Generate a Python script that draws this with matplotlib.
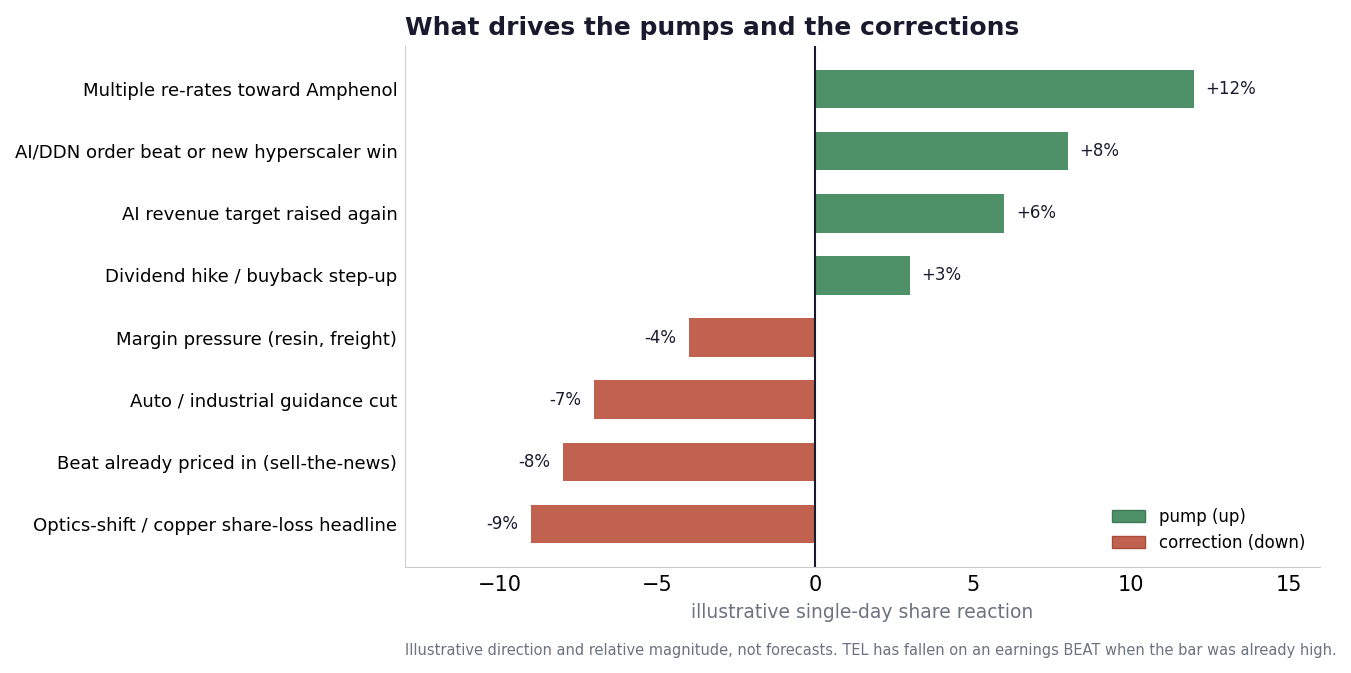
import numpy as np
import matplotlib.pyplot as plt
from matplotlib.patches import Patch

drivers = [
    "Multiple re-rates toward Amphenol",
    "AI/DDN order beat or new hyperscaler win",
    "AI revenue target raised again",
    "Dividend hike / buyback step-up",
    "Margin pressure (resin, freight)",
    "Auto / industrial guidance cut",
    "Beat already priced in (sell-the-news)",
    "Optics-shift / copper share-loss headline",
]
reaction = [12, 8, 6, 3, -4, -7, -8, -9]

green = "#4e9068"
red = "#c0624f"
dark = "#1a1a2e"
gray = "#6b7280"

fig = plt.figure(figsize=(13.51, 6.73), dpi=100)
ax = fig.add_axes([405 / 1351, 1 - 567 / 673, 915 / 1351, 521 / 673])

y = np.arange(len(drivers))
cols = [green if v > 0 else red for v in reaction]
ax.barh(y, reaction, height=0.62, color=cols)
ax.invert_yaxis()
ax.set_yticks(y)
ax.set_yticklabels(drivers, fontsize=13.05)
ax.set_xlim(-13, 16)
ax.axvline(0, color=dark, lw=1.5)

for yi, v in zip(y, reaction):
    if v > 0:
        ax.text(v + 0.37, yi, f"+{v}%", va="center", ha="left", fontsize=12, color=dark)
    else:
        ax.text(v - 0.4, yi, f"{v}%", va="center", ha="right", fontsize=12, color=dark)

ax.tick_params(axis="both", length=0)
ax.tick_params(axis="y", pad=5.5)
ax.tick_params(axis="x", labelsize=15, pad=6)
ax.set_xlabel("illustrative single-day share reaction", fontsize=13.5, color=gray, labelpad=5.5)
ax.set_title("What drives the pumps and the corrections", fontsize=18, fontweight="bold",
             color=dark, loc="left", pad=8)
for s in ["top", "right"]:
    ax.spines[s].set_visible(False)
for s in ["left", "bottom"]:
    ax.spines[s].set_color("#cccccc")

handles = [Patch(facecolor=green, edgecolor="#3d7a55", label="pump (up)"),
           Patch(facecolor=red, edgecolor="#a84c3a", label="correction (down)")]
ax.legend(handles=handles, loc="lower right", frameon=False, fontsize=12)

fig.text(405 / 1351, 1 - 650 / 673,
         "Illustrative direction and relative magnitude, not forecasts. TEL has fallen on an earnings BEAT when the bar was already high.",
         fontsize=10.5, color=gray, va="center", ha="left")

fig.savefig("out.png", dpi=100)
